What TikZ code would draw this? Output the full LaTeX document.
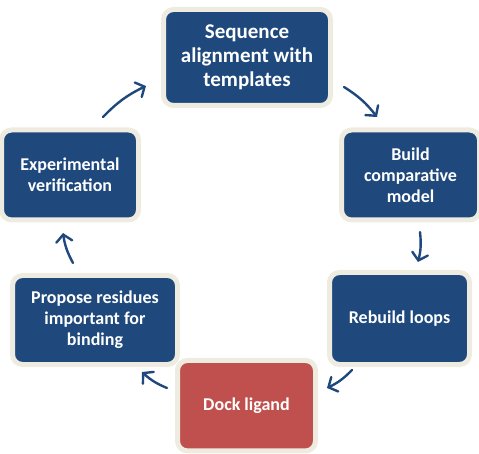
\documentclass[tikz,border=0pt]{standalone}
\usepackage{fontspec}
\setmainfont{Carlito}
\usetikzlibrary{arrows.meta}
\definecolor{boxblue}{HTML}{1F497D}
\definecolor{boxred}{HTML}{C0504D}
\definecolor{rimcol}{HTML}{EEECE1}
\definecolor{arrcol}{HTML}{1F497D}
\begin{document}
\begin{tikzpicture}[x=1pt,y=-1pt,
  stagebox/.style={draw=rimcol, line width=5pt, fill=boxblue, rounded corners=10pt,
    text=white, font=\bfseries\fontsize{18}{21}\selectfont, align=center,
    inner sep=0pt, minimum width=#1},
  stagebox/.default=137pt,
  hotbox/.style={stagebox, fill=boxred},
  cyclearrow/.style={draw=arrcol, line width=2.4pt, line cap=round,
    -{Straight Barb[length=7pt,width=16pt,line cap=round]}, bend left=10}
]
\useasboundingbox (0,0) rectangle (479,454);
\node[stagebox=167pt, minimum height=96pt, font=\bfseries\fontsize{21}{24}\selectfont] (seq) at (247,57.5) {Sequence\\alignment with\\templates};
\node[stagebox=138pt, minimum height=90pt] (build) at (410.5,175) {Build\\comparative\\model};
\node[stagebox=140pt, minimum height=92pt] (loops) at (399.5,318.5) {Rebuild loops};
\node[hotbox, minimum width=138pt, minimum height=90.5pt] (dock) at (246.5,405.7) {Dock ligand};
\node[stagebox=165pt, minimum height=89pt] (prop) at (95,320) {Propose residues\\important for\\binding};
\node[stagebox, minimum height=90pt] (exp) at (70,175) {Experimental\\verification};

\coordinate (a1s) at (103,117); \coordinate (a1e) at (146,86);
\coordinate (a2s) at (344,87);  \coordinate (a2e) at (377,117);
\coordinate (a3s) at (420,232); \coordinate (a3e) at (418,262);
\coordinate (a4s) at (352,370); \coordinate (a4e) at (327,388);
\coordinate (a5s) at (167,388); \coordinate (a5e) at (142,372);
\coordinate (a6s) at (73,263);  \coordinate (a6e) at (63,233);
\draw[cyclearrow] (a1s) to (a1e);
\draw[cyclearrow] (a2s) to (a2e);
\draw[cyclearrow] (a3s) to (a3e);
\draw[cyclearrow] (a4s) to (a4e);
\draw[cyclearrow] (a5s) to (a5e);
\draw[cyclearrow] (a6s) to (a6e);
\end{tikzpicture}
\end{document}
